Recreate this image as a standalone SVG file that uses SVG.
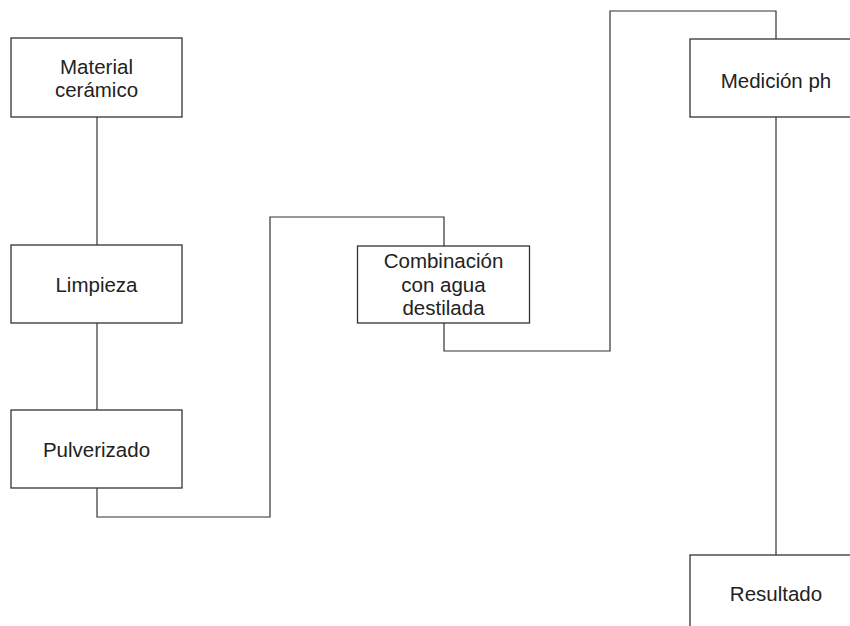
<svg xmlns="http://www.w3.org/2000/svg" width="850" height="626" viewBox="0 0 850 626">
<style>
.box{fill:#fff;stroke:#333;stroke-width:1.3}
.edge{fill:none;stroke:#333;stroke-width:1.2}
text{font-family:"Liberation Sans",Arial,sans-serif;font-size:20.5px;fill:#222;text-anchor:middle}
</style>
<rect width="850" height="626" fill="#fff"/>
<g id="connectors">
<path class="edge" d="M97,117 V245"/>
<path class="edge" d="M97,323 V410"/>
<path class="edge" d="M97,488 V517 H270 V217 H444 V246"/>
<path class="edge" d="M444,323 V351 H610 V11 H776 V39"/>
<path class="edge" d="M776,117 V555"/>
</g>
<g id="n1"><rect class="box" x="11" y="38" width="171" height="79"/><text x="96.5" y="74">Material</text><text x="96.5" y="97">cerámico</text></g>
<g id="n2"><rect class="box" x="11" y="245" width="171" height="78"/><text x="96.5" y="292">Limpieza</text></g>
<g id="n3"><rect class="box" x="11" y="410" width="171" height="78"/><text x="96.5" y="457">Pulverizado</text></g>
<g id="n4"><rect class="box" x="357.5" y="246" width="172" height="77"/><text x="443.5" y="268">Combinación</text><text x="443.5" y="291.5">con agua</text><text x="443.5" y="315">destilada</text></g>
<g id="n5"><rect class="box" x="690" y="39" width="172" height="78"/><text x="776" y="88">Medición ph</text></g>
<g id="n6"><rect class="box" x="690" y="555" width="172" height="78"/><text x="776" y="601">Resultado</text></g>
</svg>
